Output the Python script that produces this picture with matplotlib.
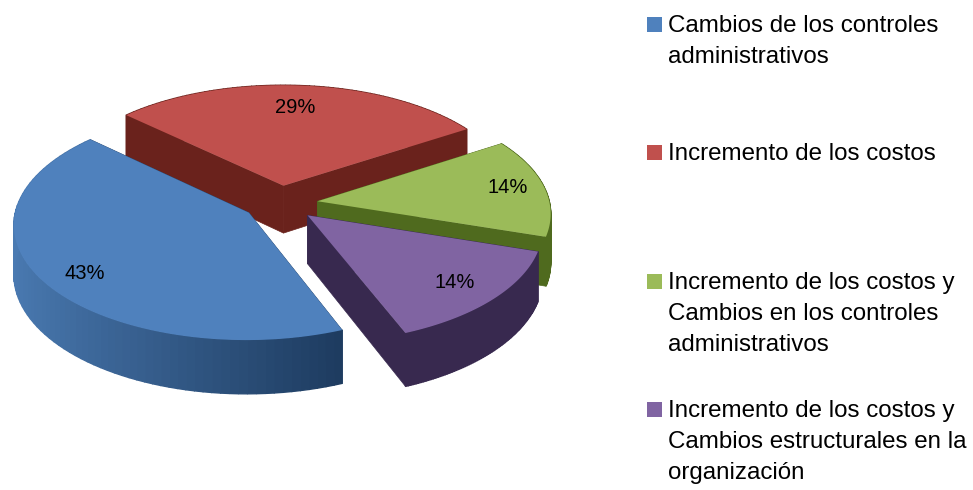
import numpy as np
import matplotlib
matplotlib.use("Agg")
import matplotlib.pyplot as plt
from matplotlib.colors import to_rgb

# data, clockwise starting from the red slice
names = ["Incremento de los costos",
         "Incremento de los costos y\nCambios en los controles\nadministrativos",
         "Incremento de los costos y\nCambios estructurales en la\norganización",
         "Cambios de los controles\nadministrativos"]
values = [29, 14, 14, 43]
pct_labels = ["29%", "14%", "14%", "43%"]
top_colors = ["#C0504D", "#9BBB59", "#8064A2", "#4F81BD"]
side_colors = ["#6A221C", "#4F6A1E", "#38294F", "#2A4C76"]

# projection of the pie
cx, cy = 290, 205
ax_x, ax_y = 232, 113
persp = 0.1
depth = 48
explode = 0.12
start = -47
# extra nudge of each exploded slice, pixels
nudge = [(-9, -6), (0, -2), (-3, 1), (-18, 0)]

plt.rcParams["font.family"] = ["Liberation Sans", "DejaVu Sans"]
fig = plt.figure(figsize=(9.73, 4.9), dpi=100)
ax = fig.add_axes([0, 0, 1, 1])
ax.set_xlim(0, 973)
ax.set_ylim(490, 0)
ax.axis("off")


def project(x, y, z=0.0):
    w = 1 + persp * y
    return cx + ax_x * x / w, cy - ax_y * y / w + depth * z / w


def mix(col, other, t):
    a, b = np.array(to_rgb(col)), np.array(to_rgb(other))
    return tuple(a + (b - a) * t)


shares = np.array(values) / sum(values) * 360
edges = start + np.concatenate([[0], np.cumsum(shares)])

for i in range(len(values)):
    t = np.radians(np.linspace(edges[i], edges[i + 1], 80))
    mid = np.radians((edges[i] + edges[i + 1]) / 2)
    ox, oy = explode * np.sin(mid), explode * np.cos(mid)
    rx, ry = ox + np.sin(t), oy + np.cos(t)
    dx, dy = nudge[i]

    # radial walls
    for ex, ey in [(rx[0], ry[0]), (rx[-1], ry[-1])]:
        xs, ys = zip(project(ox, oy), project(ex, ey), project(ex, ey, 1), project(ox, oy, 1))
        ax.fill(np.array(xs) + dx, np.array(ys) + dy, color=side_colors[i], lw=0.5, zorder=i * 3 + 1)

    # outer wall, shaded along its length
    for j in range(len(t) - 1):
        xs, ys = zip(project(rx[j], ry[j]), project(rx[j + 1], ry[j + 1]),
                     project(rx[j + 1], ry[j + 1], 1), project(rx[j], ry[j], 1))
        shade = (rx[j] - rx.min()) / (rx.max() - rx.min())
        if i == 3:
            col = mix("#4A7AB2", "#1E3C60", shade)
        else:
            col = side_colors[i]
        ax.fill(np.array(xs) + dx, np.array(ys) + dy, color=col, lw=1, zorder=i * 3 + 2)

    # top face
    tx, ty = project(np.r_[ox, rx], np.r_[oy, ry])
    ax.fill(tx + dx, ty + dy, color=top_colors[i], lw=0, zorder=i * 3 + 3)

label_xy = [(295, 107), (508, 187), (455, 282), (85, 273)]
for lab, (lx, ly) in zip(pct_labels, label_xy):
    ax.text(lx, ly, lab, fontsize=14.5, ha="center", va="center", color="black", zorder=30)

# legend
legend_order = [3, 0, 1, 2]
legend_y = [24.5, 152.5, 281.5, 409.5]
for k, ly in zip(legend_order, legend_y):
    ax.fill([647, 662, 662, 647], [ly - 7.5, ly - 7.5, ly + 7.5, ly + 7.5], color=top_colors[k], lw=0)
    ax.text(668, ly - 10, names[k], fontsize=17.4, ha="left", va="top", color="black",
            linespacing=1.53)

fig.savefig("out.png", dpi=100)
